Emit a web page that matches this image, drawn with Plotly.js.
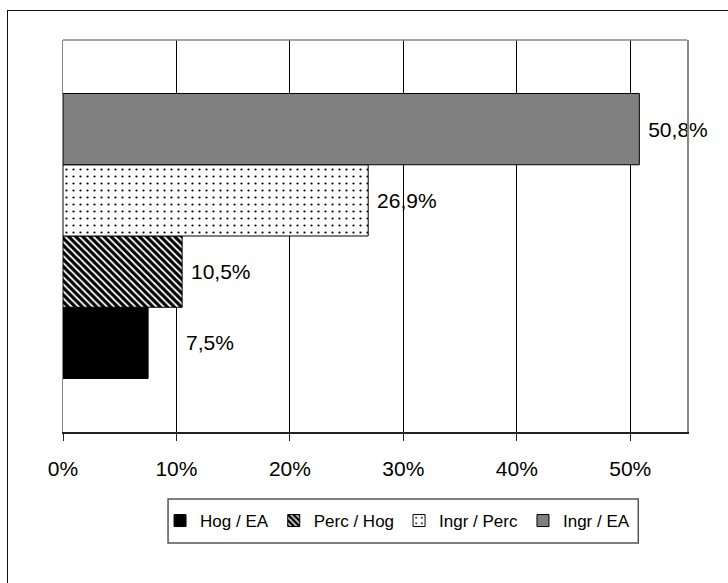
<!DOCTYPE html>
<html>
<head>
<meta charset="utf-8">
<script src="https://cdn.plot.ly/plotly-3.0.1.min.js"></script>
<style>
  html, body { margin: 0; padding: 0; background: #fff; overflow: hidden; }
  #wrap { position: relative; width: 728px; height: 583px; }
  #chart { position: absolute; left: 0; top: 0; width: 728px; height: 583px; }
  #frame { position: absolute; left: 7px; top: 10px; width: 900px; height: 900px;
           border-left: 1.5px solid #111; border-top: 1.5px solid #111; pointer-events: none; }
</style>
</head>
<body>
<div id="wrap">
  <div id="chart"></div>
  <div id="frame"></div>
</div>
<script>
// ---- data ----
const categories = ['Total'];
const seriesNames = ['Hog / EA', 'Perc / Hog', 'Ingr / Perc', 'Ingr / EA'];
const hogEA = [7.5];
const percHog = [10.5];
const ingrPerc = [26.9];
const ingrEA = [50.8];
const xTickVals = [0, 10, 20, 30, 40, 50];
const xTickText = ['0%', '10%', '20%', '30%', '40%', '50%'];

const NB = '\u00a0';
function lbl(v, pad) {
  return v.map(x => NB.repeat(pad) + x.toFixed(1).replace('.', ',') + '%');
}

const FONT = 'Arial, "Liberation Sans", sans-serif';
const labelFont = { family: FONT, size: 21, color: '#000' };

const traces = [
  {
    name: seriesNames[0], type: 'bar', orientation: 'h',
    x: hogEA, y: categories,
    text: lbl(hogEA, 6), textposition: 'outside', cliponaxis: false,
    textfont: labelFont, constraintext: 'none',
    marker: { color: '#000000', line: { color: '#000', width: 1 } },
    hoverinfo: 'skip'
  },
  {
    name: seriesNames[1], type: 'bar', orientation: 'h',
    x: percHog, y: categories,
    text: lbl(percHog, 1), textposition: 'outside', cliponaxis: false,
    textfont: labelFont, constraintext: 'none',
    marker: { color: '#ffffff', line: { color: '#000', width: 1 },
              pattern: { shape: '\\', fgcolor: '#000', bgcolor: '#ffffff', size: 5, solidity: 0.65 } },
    hoverinfo: 'skip'
  },
  {
    name: seriesNames[2], type: 'bar', orientation: 'h',
    x: ingrPerc, y: categories,
    text: lbl(ingrPerc, 1), textposition: 'outside', cliponaxis: false,
    textfont: labelFont, constraintext: 'none',
    marker: { color: '#ffffff', line: { color: '#000', width: 1 },
              pattern: { shape: '.', fgcolor: '#000', bgcolor: '#ffffff', size: 7, solidity: 0.08 } },
    hoverinfo: 'skip'
  },
  {
    name: seriesNames[3], type: 'bar', orientation: 'h',
    x: ingrEA, y: categories,
    text: lbl(ingrEA, 1), textposition: 'outside', cliponaxis: false,
    textfont: labelFont, constraintext: 'none',
    marker: { color: '#808080', line: { color: '#000', width: 1 } },
    hoverinfo: 'skip'
  }
];

const layout = {
  width: 728, height: 583,
  margin: { l: 63, r: 41.3, t: 40, b: 151 },
  paper_bgcolor: '#ffffff', plot_bgcolor: '#ffffff',
  barmode: 'group', bargap: 0.273, bargroupgap: 0,
  showlegend: true,
  font: { family: FONT, color: '#000' },
  xaxis: {
    range: [0, 55], tickvals: xTickVals, ticktext: xTickText,
    showgrid: true, gridcolor: '#000', gridwidth: 1, zeroline: false,
    showline: true, linecolor: '#222', linewidth: 1.5,
    ticks: 'outside', ticklen: 7, tickcolor: '#222', tickwidth: 1,
    ticklabelstandoff: 10,
    tickfont: { family: FONT, size: 21, color: '#000' },
    fixedrange: true
  },
  yaxis: {
    showticklabels: false, showgrid: false, zeroline: false,
    showline: true, mirror: true, linecolor: '#888', linewidth: 1.5,
    ticks: '', fixedrange: true
  },
  shapes: [
    { type: 'line', xref: 'paper', yref: 'paper', x0: 0, x1: 1, y0: 1, y1: 1,
      line: { color: '#888', width: 1.5 } },
    // legend frame
    { type: 'rect', xref: 'paper', yref: 'paper',
      x0: (168 - 63) / 623.7, x1: (638 - 63) / 623.7,
      y0: 1 - (543 - 40) / 392, y1: 1 - (499 - 40) / 392,
      line: { color: '#555', width: 1.5 }, fillcolor: 'rgba(0,0,0,0)' }
  ],
  legend: {
    orientation: 'h', x: (160 - 63) / 623.7, xanchor: 'left',
    y: 1 - (521 - 40) / 392, yanchor: 'middle',
    borderwidth: 0, bgcolor: 'rgba(0,0,0,0)',
    font: { family: FONT, size: 17, color: '#000' },
    itemwidth: 30, traceorder: 'normal'
  }
};

Plotly.newPlot('chart', traces, layout, { displayModeBar: false, staticPlot: true });
</script>
</body>
</html>
